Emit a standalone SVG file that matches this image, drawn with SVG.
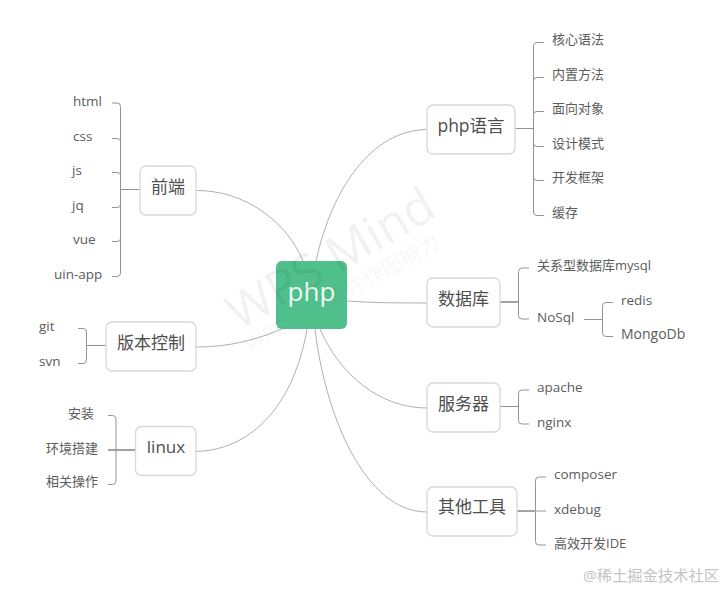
<svg xmlns="http://www.w3.org/2000/svg" width="724" height="590" viewBox="0 0 724 590">
<style>
text{font-family:"Open Sans","Noto Sans CJK SC",sans-serif;fill:#5c5c5c}
.leaf{font-size:13px}
.lat{font-size:13.500px}
.main{font-size:17px;text-anchor:middle;fill:#4e4e4e}
.box{fill:#fff;stroke:#d8d8d8;stroke-width:1.3}
.curve{fill:none;stroke:#b0b0b0;stroke-width:1}
.br{fill:none;stroke:#949494;stroke-width:1}
.thick{fill:none;stroke:#999;stroke-width:1.8}
.wm{fill:#000;fill-opacity:.055}
</style>
<rect width="724" height="590" fill="#fff"/>
<g id="connectors">
<path class="curve" d="M196 190.500C245 190 287 222 303 261"/>
<path class="curve" d="M427 129.500C372 130 332 188 316 261"/>
<path class="curve" d="M347 301C375 303 400 303 427 303"/>
<path class="curve" d="M320 329C340 375 380 408 427 408"/>
<path class="curve" d="M315 329C325 415 365 512 427 512"/>
<path class="curve" d="M196 347C230 347 255 340 282 329"/>
<path class="curve" d="M196 451.500C255 450 295 400 307 329"/>
<path class="br" d="M112 103h5q3.500 0 3.500 3.500V273q0 3.500-3.500 3.500h-5M112 138.500h5q3.500 0 3.500 3M112 172.500h5q3.500 0 3.500 3M112 207.500h5q3.500 0 3.500-3M112 241.500h5q3.500 0 3.500-3M120.500 189.500H140"/>
<path class="br" d="M78 328.500h5q3.500 0 3.500 3.500v28q0 3.500-3.500 3.500h-5M86.500 345.500H106"/>
<path class="br" d="M108 415.500h4.500q3.500 0 3.500 3.500v62q0 3.500-3.500 3.500H108"/>
<path class="thick" d="M108 450H135"/>
<path class="br" d="M515 128.500h18.500M544 42.500h-7q-3.500 0-3.500 3.500V212q0 3.500 3.500 3.500h7M544 77.500h-7q-3.500 0-3.500 3M544 111.500h-7q-3.500 0-3.500 3M544 146.500h-7q-3.500 0-3.500-3M544 180.500h-7q-3.500 0-3.500-3"/>
<path class="br" d="M529 268h-7q-3.500 0-3.500 3.500v44q0 3.500 3.500 3.500h7"/>
<path class="thick" d="M500 302H518.500"/>
<path class="br" d="M584 319.500h18.500M613 302.500h-7q-3.500 0-3.500 3.500v27q0 3.500 3.500 3.500h7"/>
<path class="br" d="M500 406.500h18.500M529 390h-7q-3.500 0-3.500 3.500v27q0 3.500 3.500 3.500h7"/>
<path class="br" d="M546 477h-7q-3.500 0-3.500 3.500v61q0 3.500 3.500 3.500h7"/>
<path class="thick" d="M517 511H535.500"/>
<path d="M535.500 511H546" fill="none" stroke="#c4c4c4" stroke-width="1.800"/>
</g>
<g id="center"><rect x="276" y="261" width="71" height="68" rx="6" fill="#4fbf8b"/><text x="311.500" y="301" style="font-size:26px;text-anchor:middle;fill:#effaf4">php</text></g>
<g id="frontend"><rect class="box" x="140" y="166" width="56" height="49" rx="6"/><text class="main" x="168" y="193">前端</text></g>
<g id="vcs"><rect class="box" x="106" y="322" width="90" height="49" rx="6"/><text class="main" x="151" y="349">版本控制</text></g>
<g id="linux"><rect class="box" x="135.500" y="426.500" width="60.500" height="49" rx="6"/><text class="main" x="166" y="453">linux</text></g>
<g id="lang"><rect class="box" x="427" y="105" width="88" height="49" rx="6"/><text class="main" x="471" y="132" style="font-size:17.500px">php语言</text></g>
<g id="db"><rect class="box" x="427" y="278" width="73" height="49" rx="6"/><text class="main" x="463.500" y="305">数据库</text></g>
<g id="server"><rect class="box" x="427" y="383" width="73" height="49" rx="6"/><text class="main" x="463.500" y="410">服务器</text></g>
<g id="tools"><rect class="box" x="427" y="487" width="90" height="49" rx="6"/><text class="main" x="472" y="513">其他工具</text></g>
<g id="leaves">
<text class="lat" x="73" y="106">html</text>
<text class="lat" x="73" y="141">css</text>
<text class="lat" x="72" y="175">js</text>
<text class="lat" x="72" y="210">jq</text>
<text class="lat" x="73" y="244">vue</text>
<text class="lat" x="54" y="279">uin-app</text>
<text class="lat" x="39" y="331">git</text>
<text class="lat" x="39" y="366">svn</text>
<text class="leaf" x="68" y="418">安装</text>
<text class="leaf" x="46" y="453">环境搭建</text>
<text class="leaf" x="46" y="486">相关操作</text>
<text class="leaf" x="552" y="44">核心语法</text>
<text class="leaf" x="552" y="79">内置方法</text>
<text class="leaf" x="552" y="113">面向对象</text>
<text class="leaf" x="552" y="148">设计模式</text>
<text class="leaf" x="552" y="182">开发框架</text>
<text class="leaf" x="552" y="217">缓存</text>
<text class="leaf" x="537" y="270">关系型数据库mysql</text>
<text class="lat" x="537" y="322">NoSql</text>
<text class="lat" x="621" y="305">redis</text>
<text class="lat" x="621" y="339" style="font-size:14px">MongoDb</text>
<text class="lat" x="537" y="392">apache</text>
<text class="lat" x="537" y="427">nginx</text>
<text class="lat" x="554" y="479">composer</text>
<text class="lat" x="554" y="514">xdebug</text>
<text class="leaf" x="554" y="548">高效开发IDE</text>
</g>
<text x="583" y="581" style="font-size:15.300px;fill:#c4c4c4">@稀土掘金技术社区</text>
<g id="watermark">
<text class="wm" transform="translate(239 331) rotate(-30)" style="font-size:49px">WPS Mind</text>
<text class="wm" transform="translate(250 353) rotate(-29)" style="font-size:21px;word-spacing:44px">WPS 软件作图能力</text>
</g>
</svg>
